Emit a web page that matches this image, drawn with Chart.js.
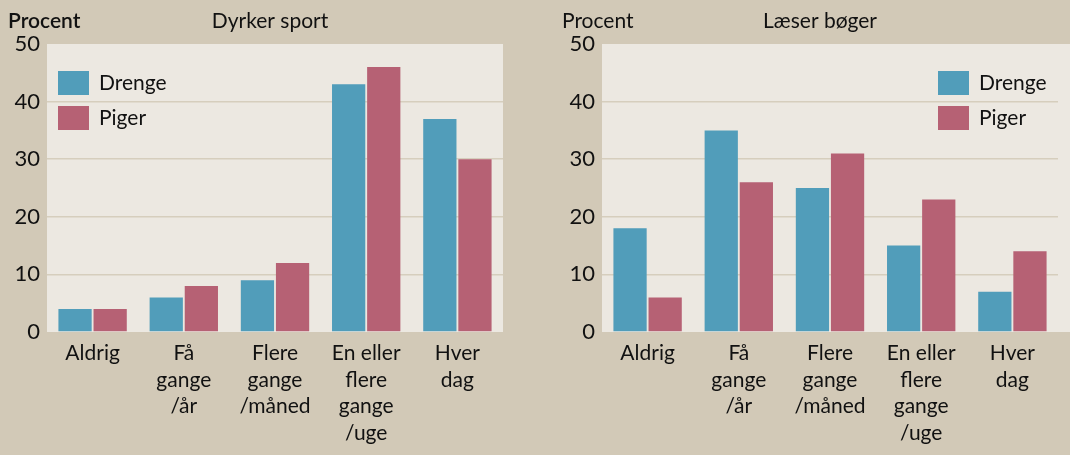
<!DOCTYPE html>
<html>
<head>
<meta charset="utf-8">
<script src="https://cdn.jsdelivr.net/npm/chart.js@4"></script>
<style>
  html, body { margin: 0; padding: 0; background: #D2C9B7; }
  #wrap { position: relative; width: 1070px; height: 455px; overflow: hidden; }
  .box { position: absolute; top: 0; height: 455px; width: 535px; }
  #box-left { left: 0; }
  #box-right { left: 535px; }
</style>
</head>
<body>
<div id="wrap">
  <div class="box" id="box-left"><canvas id="chart-left"></canvas></div>
  <div class="box" id="box-right"><canvas id="chart-right"></canvas></div>
</div>
<script>
// Data
const categories = [
    ['Aldrig'],
    ['Få', 'gange', '/år'],
    ['Flere', 'gange', '/måned'],
    ['En eller', 'flere', 'gange', '/uge'],
    ['Hver', 'dag']
];
const seriesNames = ['Drenge', 'Piger'];
const sportDrenge = [4, 6, 9, 43, 37];
const sportPiger = [4, 8, 12, 46, 30];
const booksDrenge = [18, 35, 25, 15, 7];
const booksPiger = [6, 26, 31, 23, 14];
const yTicks = [0, 10, 20, 30, 40, 50];

const BLUE = '#519DBA';
const PINK = '#B66174';
const FONT = 'Lato, "Open Sans", sans-serif';

// Plugin: plot background, headings and legend
const decorPlugin = {
    id: 'decor',
    beforeDraw(chart, args, opts) {
        const ctx = chart.ctx;
        const a = chart.chartArea;
        ctx.save();
        ctx.fillStyle = '#ECE8E1';
        ctx.fillRect(a.left, a.top, a.right - a.left + (opts.extendRight || 0), a.bottom - a.top);
        ctx.restore();
    },
    afterDraw(chart, args, opts) {
        const ctx = chart.ctx;
        ctx.save();
        ctx.fillStyle = '#111';
        ctx.textBaseline = 'alphabetic';
        // "Procent" label
        ctx.font = (opts.unitBold ? '600 ' : '') + '21px ' + FONT;
        ctx.textAlign = 'left';
        ctx.fillText('Procent', opts.unitX, 28);
        // title
        ctx.font = '21px ' + FONT;
        ctx.textAlign = 'center';
        ctx.fillText(opts.title, opts.titleX, 28);
        // legend
        chart.data.datasets.forEach((ds, i) => {
            const y = opts.legendY + i * 35;
            ctx.fillStyle = ds.backgroundColor;
            ctx.fillRect(opts.legendX, y, 31, 24);
            ctx.fillStyle = '#111';
            ctx.textAlign = 'left';
            ctx.textBaseline = 'middle';
            ctx.font = '21px ' + FONT;
            ctx.fillText(ds.label, opts.legendX + 41, y + 12);
        });
        ctx.restore();
    }
};

function makeChart(canvasId, drenge, piger, decor, padLeft, padRight, yWidth) {
    const ctx = document.getElementById(canvasId).getContext('2d');
    return new Chart(ctx, {
        type: 'bar',
        data: {
            labels: categories,
            datasets: [
                { label: seriesNames[0], data: drenge, backgroundColor: BLUE },
                { label: seriesNames[1], data: piger, backgroundColor: PINK }
            ]
        },
        options: {
            responsive: true,
            maintainAspectRatio: false,
            animation: false,
            categoryPercentage: 0.77,
            barPercentage: 0.947,
            layout: { padding: { top: 44, left: padLeft, right: padRight, bottom: 0 } },
            plugins: {
                legend: { display: false },
                tooltip: { enabled: false },
                decor: decor
            },
            scales: {
                x: {
                    grid: { display: false, drawTicks: false },
                    border: { display: false },
                    ticks: {
                        color: '#111',
                        font: { family: FONT, size: 21, lineHeight: 1.27 },
                        padding: 8,
                        maxRotation: 0,
                        autoSkip: false
                    },
                    afterFit(s) { s.height = 123; }
                },
                y: {
                    min: 0,
                    max: 50,
                    afterBuildTicks(s) { s.ticks = yTicks.map(v => ({ value: v })); },
                    grid: {
                        drawTicks: false,
                        color: c => (c.tick && (c.tick.value === 0 || c.tick.value === 50)) ? 'rgba(0,0,0,0)' : '#D6CEBD',
                        lineWidth: 1.5
                    },
                    border: { display: false },
                    ticks: {
                        color: '#111',
                        font: { family: FONT, size: 22 },
                        padding: 7
                    },
                    afterFit(s) { s.width = yWidth; }
                }
            }
        },
        plugins: [decorPlugin]
    });
}

makeChart('chart-left', sportDrenge, sportPiger,
    { title: 'Dyrker sport', titleX: 270, unitX: 8, unitBold: true, legendX: 58, legendY: 71, extendRight: 0 },
    0, 32, 47);

makeChart('chart-right', booksDrenge, booksPiger,
    { title: 'Læser bøger', titleX: 285, unitX: 27, unitBold: false, legendX: 403, legendY: 71, extendRight: 20 },
    20, 12, 47);
</script>
</body>
</html>
